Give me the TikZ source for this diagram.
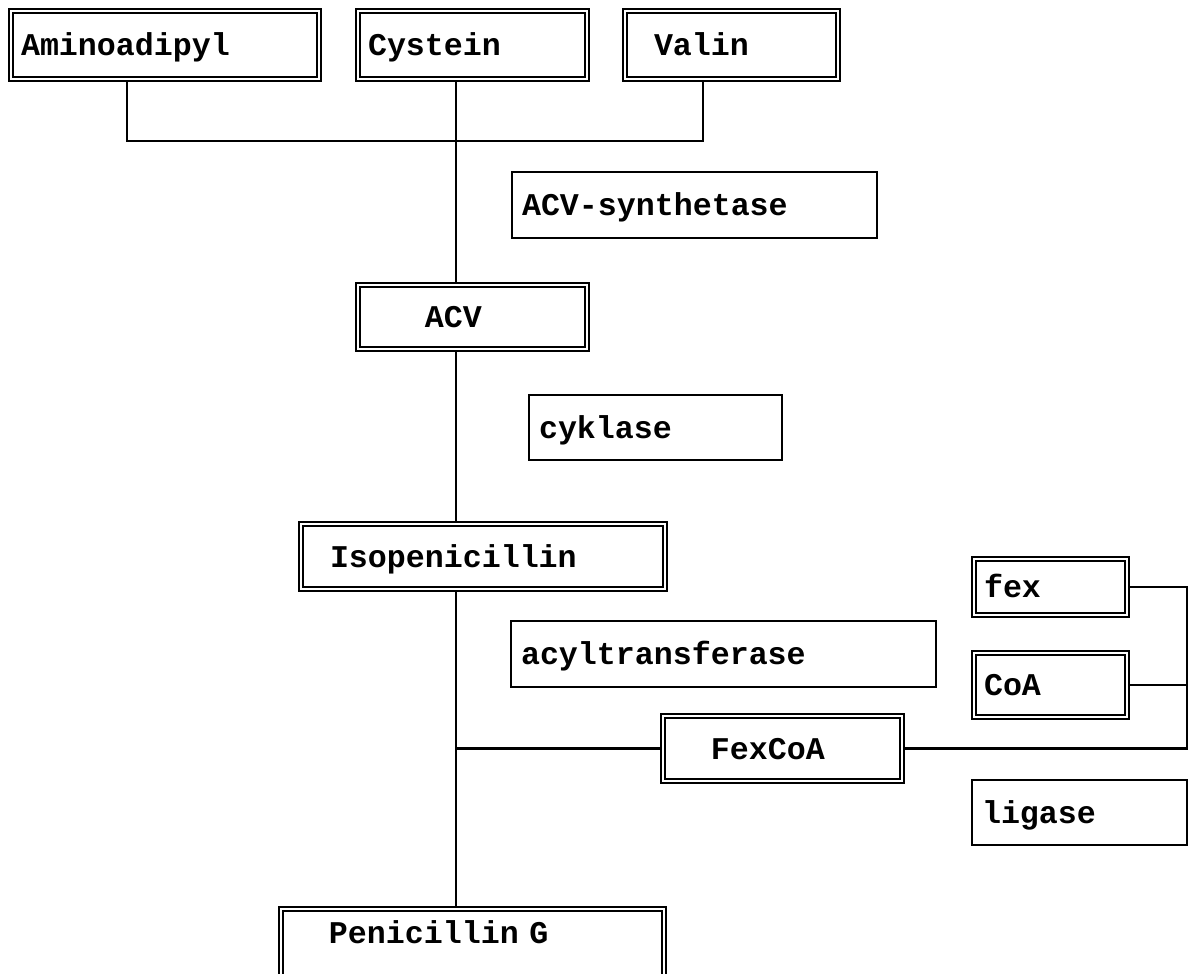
\documentclass[tikz,border=0pt]{standalone}
\usepackage{fontspec}
\usepackage{tikz}
\usetikzlibrary{positioning}
\newfontfamily\boxfont{Liberation Mono}

\begin{document}
\begin{tikzpicture}[x=0.02cm,y=-0.02cm,line width=1.2pt]
  \tikzstyle{boxtext}=[font=\boxfont\bfseries\fontsize{18}{20}\selectfont,inner xsep=0.2cm,inner ysep=0pt,align=left,text height=1.35em,text depth=.15em]
  \tikzstyle{metab}=[boxtext,draw,double,double distance=1.5pt]
  \tikzstyle{enzyme}=[boxtext,draw,line width=1.3pt]

  \useasboundingbox (0,0) rectangle (1192,973);
  \clip (0,0) rectangle (1192,973);

  % amino acids
  \node[metab,text width=5.76cm,minimum width=6.16cm,minimum height=1.36cm] (amino) at (165,45) {Aminoadipyl};
  \node[metab,text width=4.18cm,minimum width=4.58cm,minimum height=1.36cm] (cys) at (472.5,45) {Cystein};
  \node[metab,text width=3.86cm,minimum width=4.26cm,minimum height=1.36cm] (val) at (731.5,45) {\hspace*{0.6em}Valin};

  % main pathway
  \node[enzyme,text width=6.9cm,minimum width=7.3cm,minimum height=1.32cm] (acvs) at (694.5,205) {ACV-synthetase};
  \node[metab,text width=4.18cm,minimum width=4.58cm,minimum height=1.28cm] (acv) at (472.5,317) {\hspace*{1.8em}ACV};
  \node[enzyme,text width=4.66cm,minimum width=5.06cm,minimum height=1.3cm] (cyk) at (655.5,427.5) {cyklase};
  \node[metab,text width=6.88cm,minimum width=7.28cm,minimum height=1.3cm] (iso) at (483,556.5) {\hspace*{0.6em}Isopenicillin};
  \node[enzyme,text width=8.1cm,minimum width=8.5cm,minimum height=1.32cm] (acyl) at (723.5,654) {acyltransferase};
  \node[metab,text width=4.38cm,minimum width=4.78cm,minimum height=1.3cm] (fexcoa) at (782.5,748.5) {\hspace*{1.2em}FexCoA};
  \node[metab,text width=7.26cm,minimum width=7.66cm,minimum height=1.48cm,text depth=1.6em] (peng) at (472.5,946) {\hspace*{1.2em}Penicillin G};

  % side chain
  \node[metab,text width=2.66cm,minimum width=3.06cm,minimum height=1.12cm] (fex) at (1050.5,587) {fex};
  \node[metab,text width=2.66cm,minimum width=3.06cm,minimum height=1.28cm] (coa) at (1050.5,685) {CoA};
  \node[enzyme,text width=3.9cm,minimum width=4.3cm,minimum height=1.3cm] (lig) at (1079.5,812.5) {ligase};

  \coordinate (aminoX) at (127,0);
  \coordinate (valX) at (703,0);
  \coordinate (spine) at (456,0);
  \coordinate (join) at (456,141);
  \coordinate (rail) at (1187,0);

  \draw (amino.south -| aminoX) |- (join) -| (val.south -| valX);
  \draw (cys.south -| spine) -- (acv.north -| spine);
  \draw (acv.south -| spine) -- (iso.north -| spine);
  \draw (iso.south -| spine) -- (peng.north -| spine);
  \draw (fexcoa.west) -- (fexcoa.west -| spine);
  \draw (fex.east) -| (rail |- fexcoa.east) -- (fexcoa.east);
  \draw (coa.east) -- (coa.east -| rail);
\end{tikzpicture}
\end{document}
